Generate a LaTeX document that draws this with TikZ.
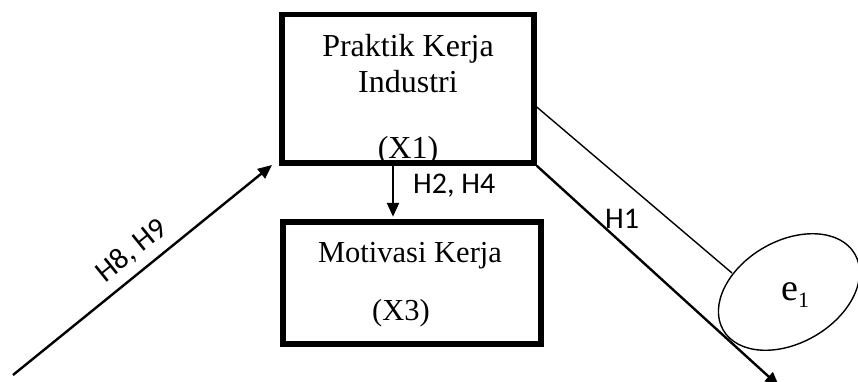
\documentclass[tikz,border=0pt]{standalone}
\usepackage{fontspec}
\setmainfont{Liberation Serif}
\newfontfamily\labfont{Carlito}
\usetikzlibrary{arrows.meta}
\begin{document}
\begin{tikzpicture}[x=1pt,y=-1pt,
  boxnode/.style={draw, line width=5.5pt, inner sep=0pt},
  bigtext/.style={font=\fontsize{32}{36}\selectfont, inner sep=0pt, anchor=base},
  midtext/.style={font=\fontsize{30.5}{34}\selectfont, inner sep=0pt, anchor=base},
  hlabel/.style={font=\labfont\fontsize{30}{34}\selectfont, inner sep=0pt},
  arr/.style={draw, line width=2.4pt, -{Triangle[length=14pt,width=12pt]}},
  thinline/.style={draw, line width=1.4pt}]
\clip (0,0) rectangle (858,381);
\fill[white] (0,0) rectangle (858,381);
% texts inside boxes
\node[bigtext] (t1a) at (408,56) {Praktik Kerja};
\node[bigtext] (t1b) at (408,92) {Industri};
\node[bigtext] (t1c) at (408,158) {(X1)};
\node[midtext] (t2a) at (410,262) {Motivasi Kerja};
\node[midtext] (t2b) at (401,320) {(X3)};
% boxes
\node[boxnode, minimum width=252pt, minimum height=148.5pt] (x1) at (408,88.75) {};
\node[boxnode, minimum width=258pt, minimum height=122pt] (x3) at (412,283) {};
% error term
\node[font=\fontsize{38}{38}\selectfont, inner sep=0pt, anchor=base west] (e1) at (781,300)
  {e\raisebox{-7pt}{\fontsize{22}{22}\selectfont 1}};
\coordinate (ec) at (789,292);
\draw[line width=1.4pt, rotate around={30:(ec)}] (ec) ellipse [x radius=76pt, y radius=51pt];
% labels
\node[hlabel, anchor=base west] (h24) at (413,193) {H2, H4};
\node[hlabel, anchor=base west] (h1) at (605,228) {H1};
\node[hlabel, rotate=39] (h89) at (132,251) {H8, H9};
% connectors
\coordinate (s89) at (13,375);
\coordinate (t89) at (272,165);
\draw[arr] (s89) -- (t89);
\coordinate (vx) at (393,0);
\draw[arr, shorten >=2.5pt] (x1.south -| vx) -- (x3.north -| vx);
\coordinate (h1end) at (779,386);
\draw[arr] (x1.south east) -- (h1end);
\coordinate (thinS) at (534,107);
\coordinate (thinE) at (732,273);
\draw[thinline] (x1.east |- thinS) -- (thinE);
\end{tikzpicture}
\end{document}
